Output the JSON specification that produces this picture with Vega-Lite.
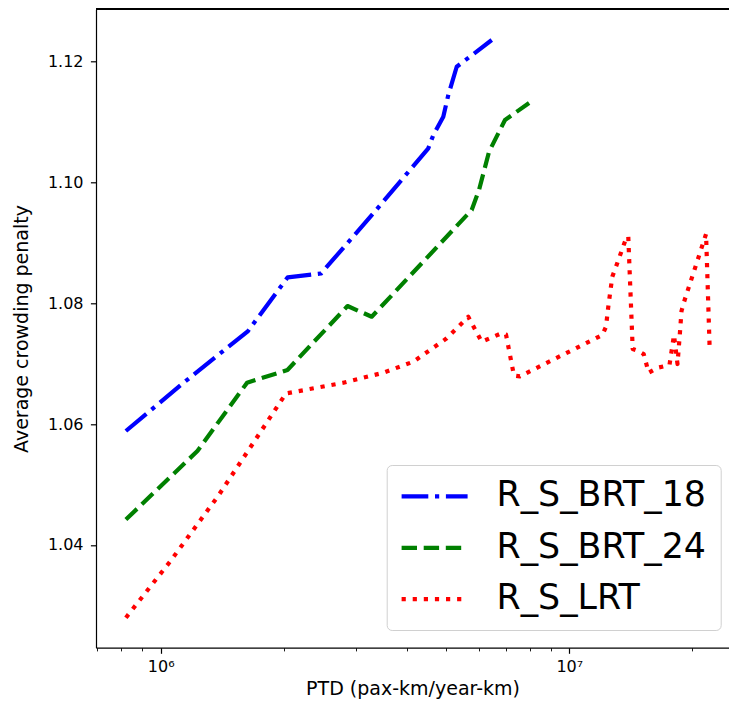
{
  "$schema": "https://vega.github.io/schema/vega-lite/v6.json",
  "width": 633,
  "height": 638.4,
  "autosize": "none",
  "padding": {"left": 96, "top": 9.3, "right": 0, "bottom": 67.3},
  "data": {
    "values": [
      {"series": "R_S_BRT_18", "ptd": 822000, "penalty": 1.05886},
      {"series": "R_S_BRT_18", "ptd": 1147000, "penalty": 1.06704},
      {"series": "R_S_BRT_18", "ptd": 1636000, "penalty": 1.07541},
      {"series": "R_S_BRT_18", "ptd": 2046000, "penalty": 1.0843},
      {"series": "R_S_BRT_18", "ptd": 2468000, "penalty": 1.08493},
      {"series": "R_S_BRT_18", "ptd": 3345000, "penalty": 1.09522},
      {"series": "R_S_BRT_18", "ptd": 4518000, "penalty": 1.10566},
      {"series": "R_S_BRT_18", "ptd": 4647000, "penalty": 1.10786},
      {"series": "R_S_BRT_18", "ptd": 4916000, "penalty": 1.1109},
      {"series": "R_S_BRT_18", "ptd": 5057000, "penalty": 1.11449},
      {"series": "R_S_BRT_18", "ptd": 5302000, "penalty": 1.11917},
      {"series": "R_S_BRT_18", "ptd": 6459000, "penalty": 1.12359},
      {"series": "R_S_BRT_24", "ptd": 822000, "penalty": 1.0442},
      {"series": "R_S_BRT_24", "ptd": 1230000, "penalty": 1.05555},
      {"series": "R_S_BRT_24", "ptd": 1627000, "penalty": 1.06685},
      {"series": "R_S_BRT_24", "ptd": 2043000, "penalty": 1.06896},
      {"series": "R_S_BRT_24", "ptd": 2866000, "penalty": 1.07955},
      {"series": "R_S_BRT_24", "ptd": 3284000, "penalty": 1.07778},
      {"series": "R_S_BRT_24", "ptd": 5769000, "penalty": 1.09545},
      {"series": "R_S_BRT_24", "ptd": 6012000, "penalty": 1.09876},
      {"series": "R_S_BRT_24", "ptd": 6362000, "penalty": 1.1051},
      {"series": "R_S_BRT_24", "ptd": 6960000, "penalty": 1.11035},
      {"series": "R_S_BRT_24", "ptd": 8163000, "penalty": 1.11366},
      {"series": "R_S_LRT", "ptd": 822000, "penalty": 1.02795},
      {"series": "R_S_LRT", "ptd": 1054000, "penalty": 1.03722},
      {"series": "R_S_LRT", "ptd": 1384000, "penalty": 1.04815},
      {"series": "R_S_LRT", "ptd": 2026000, "penalty": 1.06507},
      {"series": "R_S_LRT", "ptd": 2799000, "penalty": 1.06685},
      {"series": "R_S_LRT", "ptd": 3505000, "penalty": 1.06851},
      {"series": "R_S_LRT", "ptd": 4152000, "penalty": 1.07033},
      {"series": "R_S_LRT", "ptd": 5012000, "penalty": 1.0742},
      {"series": "R_S_LRT", "ptd": 5659000, "penalty": 1.07778},
      {"series": "R_S_LRT", "ptd": 6104000, "penalty": 1.07364},
      {"series": "R_S_LRT", "ptd": 6843000, "penalty": 1.07508},
      {"series": "R_S_LRT", "ptd": 7000000, "penalty": 1.07483},
      {"series": "R_S_LRT", "ptd": 7320000, "penalty": 1.06805},
      {"series": "R_S_LRT", "ptd": 7570000, "penalty": 1.06791},
      {"series": "R_S_LRT", "ptd": 12044000, "penalty": 1.07475},
      {"series": "R_S_LRT", "ptd": 12296000, "penalty": 1.07613},
      {"series": "R_S_LRT", "ptd": 12456000, "penalty": 1.07944},
      {"series": "R_S_LRT", "ptd": 12740000, "penalty": 1.0844},
      {"series": "R_S_LRT", "ptd": 13009000, "penalty": 1.08606},
      {"series": "R_S_LRT", "ptd": 13816000, "penalty": 1.09103},
      {"series": "R_S_LRT", "ptd": 13941000, "penalty": 1.09103},
      {"series": "R_S_LRT", "ptd": 14292000, "penalty": 1.07243},
      {"series": "R_S_LRT", "ptd": 14750000, "penalty": 1.0721},
      {"series": "R_S_LRT", "ptd": 15206000, "penalty": 1.0716},
      {"series": "R_S_LRT", "ptd": 15640000, "penalty": 1.06851},
      {"series": "R_S_LRT", "ptd": 16455000, "penalty": 1.06934},
      {"series": "R_S_LRT", "ptd": 17584000, "penalty": 1.06978},
      {"series": "R_S_LRT", "ptd": 18036000, "penalty": 1.07475},
      {"series": "R_S_LRT", "ptd": 18396000, "penalty": 1.06995},
      {"series": "R_S_LRT", "ptd": 18656000, "penalty": 1.07525},
      {"series": "R_S_LRT", "ptd": 18816000, "penalty": 1.07872},
      {"series": "R_S_LRT", "ptd": 19082000, "penalty": 1.08021},
      {"series": "R_S_LRT", "ptd": 21607000, "penalty": 1.09147},
      {"series": "R_S_LRT", "ptd": 22060000, "penalty": 1.07215}
    ]
  },
  "layer": [
    {
      "mark": {"type": "rule", "color": "black", "strokeWidth": 1.2},
      "encoding": {
        "y": {"datum": 1.12868, "type": "quantitative", "scale": {"domain": [1.02298, 1.12868]}}
      }
    },
    {
      "mark": {"type": "line", "strokeWidth": 4.2, "strokeCap": "butt", "strokeJoin": "round"},
      "encoding": {
        "x": {
          "field": "ptd",
          "type": "quantitative",
          "scale": {"type": "log", "domain": [694600, 24590000], "nice": false, "zero": false},
          "axis": {
            "title": "PTD (pax-km/year-km)",
            "values": [700000, 800000, 900000, 1000000, 2000000, 3000000, 4000000, 5000000, 6000000, 7000000, 8000000, 9000000, 10000000, 20000000],
            "labelExpr": "datum.value == 1000000 ? '10⁶' : (datum.value == 10000000 ? '10⁷' : '')",
            "labelOverlap": false,
            "labelFlush": false,
            "labelPadding": 5,
            "titlePadding": 5,
            "tickSize": {"condition": {"test": "datum.value == 1000000 || datum.value == 10000000", "value": 5.6}, "value": 3.2},
            "tickWidth": {"condition": {"test": "datum.value == 1000000 || datum.value == 10000000", "value": 1.2}, "value": 0.9}
          }
        },
        "y": {
          "field": "penalty",
          "type": "quantitative",
          "scale": {"domain": [1.02298, 1.12868], "nice": false, "zero": false},
          "axis": {
            "title": "Average crowding penalty",
            "values": [1.04, 1.06, 1.08, 1.1, 1.12],
            "format": ".2f",
            "labelPadding": 7.4,
            "titlePadding": 16
          }
        },
        "color": {
          "field": "series",
          "type": "nominal",
          "scale": {"domain": ["R_S_BRT_18", "R_S_BRT_24", "R_S_LRT"], "range": ["#0000ff", "#008000", "#ff0000"]},
          "legend": {
            "orient": "none",
            "legendX": 290.7,
            "legendY": 455.7,
            "title": null
          }
        },
        "strokeDash": {
          "field": "series",
          "type": "nominal",
          "scale": {"domain": ["R_S_BRT_18", "R_S_BRT_24", "R_S_LRT"], "range": [[26.7, 6.7, 4.2, 6.7], [15.4, 6.7], [4.2, 6.9]]},
          "legend": {
            "orient": "none",
            "legendX": 290.7,
            "legendY": 455.7,
            "title": null
          }
        }
      }
    }
  ],
  "config": {
    "font": "DejaVu Sans",
    "view": {"stroke": null},
    "axis": {
      "grid": false,
      "domainColor": "black",
      "domainWidth": 1.2,
      "tickColor": "black",
      "tickWidth": 1.2,
      "tickSize": 5.6,
      "labelColor": "black",
      "labelFont": "DejaVu Sans",
      "labelFontSize": 16,
      "titleFont": "DejaVu Sans",
      "titleFontSize": 19,
      "titleFontWeight": "normal",
      "titleColor": "black"
    },
    "legend": {
      "labelFont": "DejaVu Sans",
      "labelFontSize": 34.8,
      "labelColor": "black",
      "symbolType": "M-1.5,0H4.5",
      "symbolStrokeWidth": 4.2,
      "symbolSize": 484,
      "symbolOffset": 0,
      "labelOffset": 61,
      "padding": 14,
      "rowPadding": 15.4,
      "fillColor": "white",
      "strokeColor": "#d0d0d0",
      "cornerRadius": 5,
      "labelLimit": 400
    }
  }
}
